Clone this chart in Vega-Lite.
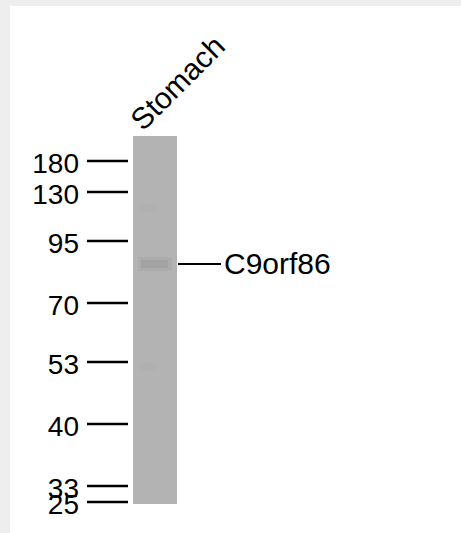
{
  "$schema": "https://vega.github.io/schema/vega-lite/v6.json",
  "autosize": {"type": "fit", "contains": "padding"},
  "width": 461,
  "height": 533,
  "padding": {"left": 10, "top": 6, "right": 0, "bottom": 0},
  "background": "#eeeeee",
  "config": {"view": {"fill": "white", "stroke": null}},
  "datasets": {
    "markers": [
      {"kDa": "180", "migration": 161},
      {"kDa": "130", "migration": 192},
      {"kDa": "95", "migration": 241},
      {"kDa": "70", "migration": 303},
      {"kDa": "53", "migration": 362},
      {"kDa": "40", "migration": 424},
      {"kDa": "33", "migration": 486},
      {"kDa": "25", "migration": 502}
    ],
    "lanes": [{"sample": "Stomach", "top": 136, "bottom": 504}],
    "bands": [{"protein": "C9orf86", "migration": 264}],
    "smudges": [{"migration": 208}, {"migration": 367}]
  },
  "encoding": {
    "x": {"type": "quantitative", "scale": {"domain": [10, 461]}, "axis": null},
    "y": {"type": "quantitative", "scale": {"domain": [6, 533], "reverse": true}, "axis": null}
  },
  "layer": [
    {
      "data": {"name": "lanes"},
      "mark": {"type": "rect", "color": "#b3b3b3"},
      "encoding": {
        "x": {"datum": 133},
        "x2": {"datum": 177},
        "y": {"field": "top"},
        "y2": {"field": "bottom"}
      }
    },
    {
      "data": {"name": "smudges"},
      "mark": {"type": "rule", "color": "#a8a8a8", "strokeWidth": 8, "opacity": 0.25},
      "encoding": {
        "x": {"datum": 140},
        "x2": {"datum": 156},
        "y": {"field": "migration"}
      }
    },
    {
      "data": {"name": "bands"},
      "mark": {"type": "rule", "color": "#a2a2a2", "strokeWidth": 14, "opacity": 0.4},
      "encoding": {
        "x": {"datum": 138},
        "x2": {"datum": 172},
        "y": {"field": "migration"}
      }
    },
    {
      "data": {"name": "bands"},
      "mark": {"type": "rule", "color": "#979797", "strokeWidth": 8, "opacity": 0.45},
      "encoding": {
        "x": {"datum": 141},
        "x2": {"datum": 168},
        "y": {"field": "migration"}
      }
    },
    {
      "data": {"name": "markers"},
      "mark": {"type": "rule", "color": "black", "strokeWidth": 2.5},
      "encoding": {
        "x": {"datum": 87},
        "x2": {"datum": 128},
        "y": {"field": "migration"}
      }
    },
    {
      "data": {"name": "markers"},
      "mark": {"type": "text", "align": "right", "baseline": "alphabetic", "dy": 12, "font": "Liberation Sans", "fontSize": 28, "color": "black"},
      "encoding": {
        "x": {"datum": 79},
        "y": {"field": "migration"},
        "text": {"field": "kDa"}
      }
    },
    {
      "data": {"name": "bands"},
      "mark": {"type": "rule", "color": "black", "strokeWidth": 2},
      "encoding": {
        "x": {"datum": 178},
        "x2": {"datum": 221},
        "y": {"field": "migration"}
      }
    },
    {
      "data": {"name": "bands"},
      "mark": {"type": "text", "align": "left", "baseline": "alphabetic", "dy": 10, "font": "Liberation Sans", "fontSize": 30, "color": "black"},
      "encoding": {
        "x": {"datum": 224},
        "y": {"field": "migration"},
        "text": {"field": "protein"}
      }
    },
    {
      "data": {"name": "lanes"},
      "mark": {"type": "text", "align": "left", "baseline": "alphabetic", "angle": -45, "font": "Liberation Sans", "fontSize": 30, "color": "black"},
      "encoding": {
        "x": {"datum": 143},
        "y": {"datum": 132},
        "text": {"field": "sample"}
      }
    }
  ]
}
